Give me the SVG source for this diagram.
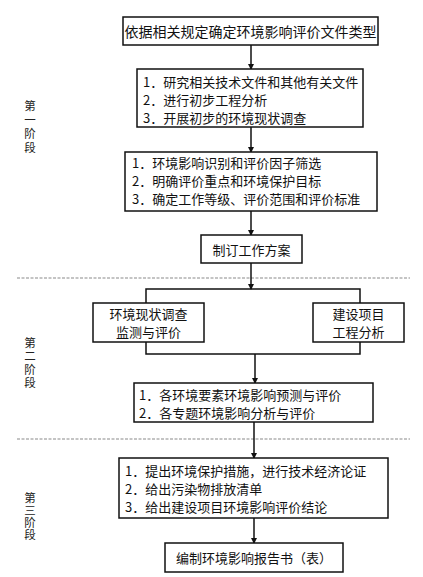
<svg xmlns="http://www.w3.org/2000/svg" width="423" height="577" viewBox="0 0 423 577">
<style>
.box{fill:#fff;stroke:#111;stroke-width:1.5}
.t{font-family:"Noto Sans CJK SC","Liberation Serif",sans-serif;font-size:13px;fill:#111;dominant-baseline:central}
.c{text-anchor:middle}
.ln{stroke:#111;stroke-width:1.5;fill:none}
.dash{stroke:#8a8a8a;stroke-width:1.2;stroke-dasharray:3 1.5;fill:none}
.lab{font-family:"Noto Sans CJK SC","Liberation Serif",sans-serif;font-size:11.5px;fill:#222;writing-mode:vertical-rl}
</style>
<defs>
<marker id="ah" markerWidth="6" markerHeight="6" refX="5" refY="3" orient="auto" markerUnits="userSpaceOnUse">
<path d="M0,0 L6,3 L0,6 Z" fill="#111"/>
</marker>
</defs>
<rect width="423" height="577" fill="#fff"/>
<g id="dividers">
<line class="dash" x1="17" y1="278" x2="410" y2="278"/>
<line class="dash" x1="17" y1="439" x2="410" y2="439"/>
</g>
<g id="stage-labels">
<text id="stage1" class="lab" x="30" y="100" style="letter-spacing:2.5px">第一阶段</text>
<text id="stage2" class="lab" x="30" y="337" style="letter-spacing:1.8px">第二阶段</text>
<text id="stage3" class="lab" x="30" y="492" style="letter-spacing:0.9px">第三阶段</text>
</g>
<g id="connectors">
<line class="ln" x1="251" y1="45" x2="251" y2="69" marker-end="url(#ah)"/>
<line class="ln" x1="251" y1="127" x2="251" y2="152" marker-end="url(#ah)"/>
<line class="ln" x1="251" y1="211" x2="251" y2="235" marker-end="url(#ah)"/>
<line class="ln" x1="251" y1="263" x2="251" y2="289" marker-end="url(#ah)"/>
<polyline class="ln" points="146,303 146,289 360,289 360,303"/>
<polyline class="ln" points="146,342 146,354 360,354 360,342"/>
<line class="ln" x1="255" y1="354" x2="255" y2="383" marker-end="url(#ah)"/>
<line class="ln" x1="254" y1="422" x2="254" y2="458" marker-end="url(#ah)"/>
<line class="ln" x1="254" y1="518" x2="254" y2="543" marker-end="url(#ah)"/>
</g>
<g id="n1">
<rect class="box" x="123" y="17" width="255" height="28"/>
<text class="t c" x="250.5" y="31" style="font-size:14px">依据相关规定确定环境影响评价文件类型</text>
</g>
<g id="n2">
<rect class="box" x="137" y="69" width="226" height="58"/>
<text class="t" x="143" y="81">1．研究相关技术文件和其他有关文件</text>
<text class="t" x="143" y="99">2．进行初步工程分析</text>
<text class="t" x="143" y="117">3．开展初步的环境现状调查</text>
</g>
<g id="n3">
<rect class="box" x="125" y="152" width="252" height="59"/>
<text class="t" x="132" y="162">1．环境影响识别和评价因子筛选</text>
<text class="t" x="132" y="180">2．明确评价重点和环境保护目标</text>
<text class="t" x="132" y="198">3．确定工作等级、评价范围和评价标准</text>
</g>
<g id="n4">
<rect class="box" x="201" y="235" width="101" height="28"/>
<text class="t c" x="251.5" y="249.5">制订工作方案</text>
</g>
<g id="n5">
<rect class="box" x="93" y="303" width="111" height="39"/>
<text class="t c" x="148.5" y="313.5">环境现状调查</text>
<text class="t c" x="148.5" y="331.5">监测与评价</text>
</g>
<g id="n6">
<rect class="box" x="313" y="303" width="91" height="39"/>
<text class="t c" x="358.5" y="313.5">建设项目</text>
<text class="t c" x="358.5" y="331.5">工程分析</text>
</g>
<g id="n7">
<rect class="box" x="134" y="383" width="239" height="39"/>
<text class="t" x="139" y="394">1．各环境要素环境影响预测与评价</text>
<text class="t" x="139" y="412">2．各专题环境影响分析与评价</text>
</g>
<g id="n8">
<rect class="box" x="119" y="458" width="269" height="60"/>
<text class="t" x="125" y="470">1．提出环境保护措施，进行技术经济论证</text>
<text class="t" x="125" y="488">2．给出污染物排放清单</text>
<text class="t" x="125" y="506">3．给出建设项目环境影响评价结论</text>
</g>
<g id="n9">
<rect class="box" x="165" y="543" width="178" height="29"/>
<text class="t c" x="254" y="557.5">编制环境影响报告书（表）</text>
</g>
</svg>
